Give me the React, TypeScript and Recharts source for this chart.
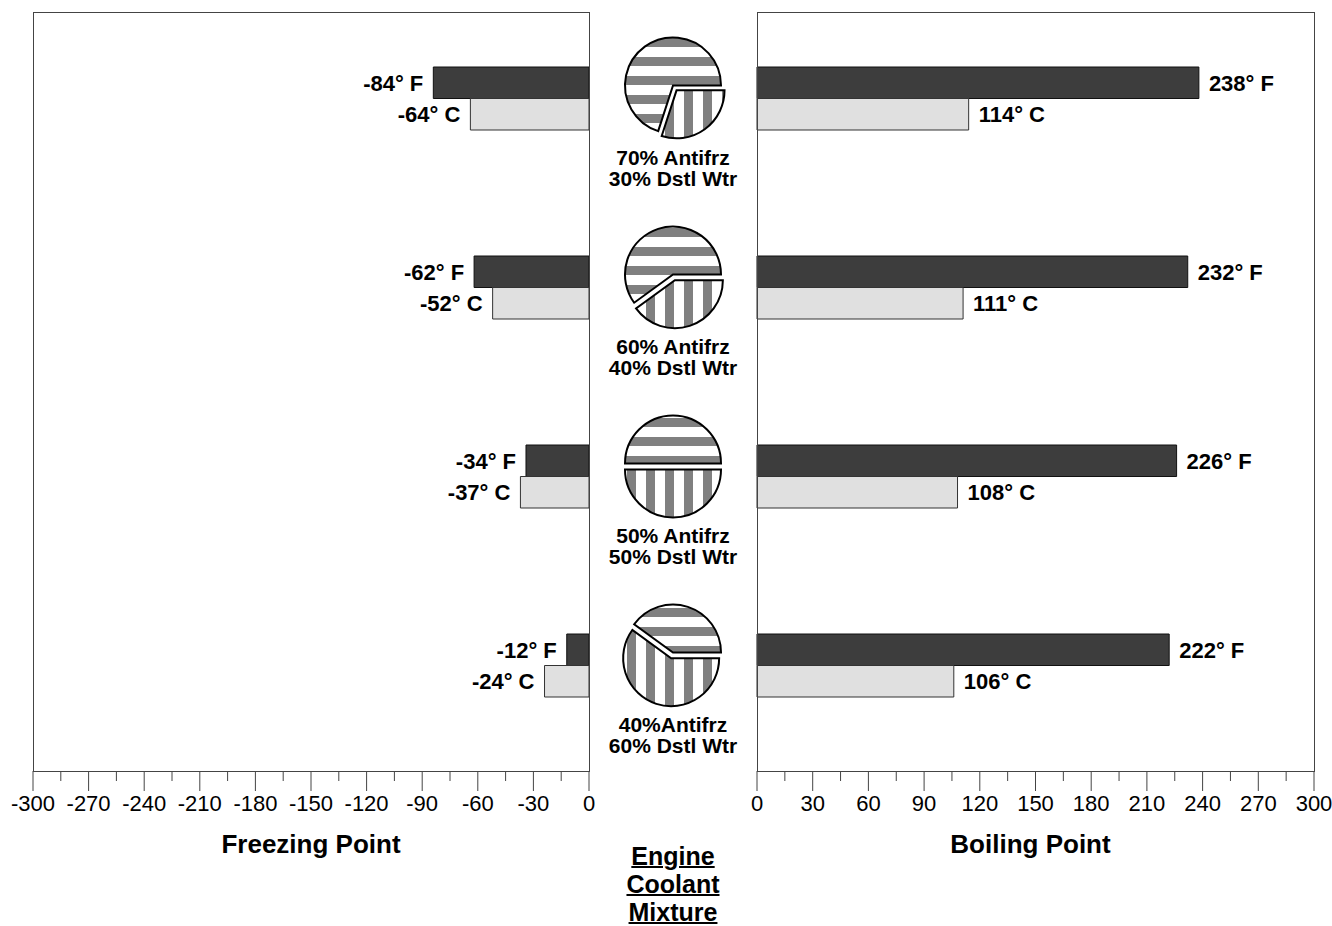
import React from 'react';
import { BarChart, Bar, XAxis, YAxis, LabelList, PieChart, Pie, Cell } from 'recharts';

// coolant mixtures, top to bottom
const MIXTURES = ['70/30', '60/40', '50/50', '40/60'];
const MIX_LINES = [
  ['70% Antifrz', '30% Dstl Wtr'],
  ['60% Antifrz', '40% Dstl Wtr'],
  ['50% Antifrz', '50% Dstl Wtr'],
  ['40%Antifrz', '60% Dstl Wtr'],
];
const ANTIFREEZE = [70, 60, 50, 40];
const WATER = [30, 40, 50, 60];

const FREEZE_F = [-84, -62, -34, -12];
const FREEZE_C = [-64, -52, -37, -24];
const BOIL_F = [238, 232, 226, 222];
const BOIL_C = [114, 111, 108, 106];

const FREEZE_TICKS = [-300, -285, -270, -255, -240, -225, -210, -195, -180, -165, -150, -135, -120, -105, -90, -75, -60, -45, -30, -15, 0];
const BOIL_TICKS = [0, 15, 30, 45, 60, 75, 90, 105, 120, 135, 150, 165, 180, 195, 210, 225, 240, 255, 270, 285, 300];

const FONT = "'Liberation Sans', Arial, Helvetica, sans-serif";
const DARK = '#3d3d3d';
const LIGHT = '#e0e0e0';
const LINE = '#444';

// layout
const PLOT_TOP = 12;
const PLOT_H = 759;
const PAD_TOP = -8;
const PAD_BOTTOM = 11;
const BAND = (PLOT_H - PAD_TOP - PAD_BOTTOM) / MIXTURES.length;
const groupCenter = (i: number) => PLOT_TOP + PAD_TOP + BAND * (i + 0.5);

const freezeRows = MIXTURES.map((m, i) => ({ mix: m, f: FREEZE_F[i], c: FREEZE_C[i] }));
const boilRows = MIXTURES.map((m, i) => ({ mix: m, f: BOIL_F[i], c: BOIL_C[i] }));

function AxisTick(props: any) {
  const { x, y, payload } = props;
  const v = payload.value;
  const major = v % 30 === 0;
  return (
    <g>
      <line x1={x} x2={x} y1={y} y2={y + (major ? 20 : 10)} stroke={LINE} />
      {major && (
        <text x={x} y={y + 40} textAnchor="middle" fontSize={22} fill="#000">
          {String(v)}
        </text>
      )}
    </g>
  );
}

function BarTag(props: any) {
  const vb = props.viewBox ?? props;
  const { x, y, width, height } = vb;
  const lo = Math.min(x, x + width);
  const hi = Math.max(x, x + width);
  const left = props.side === 'left';
  return (
    <text
      x={left ? lo - 10 : hi + 10}
      y={y + height / 2}
      dy="0.36em"
      textAnchor={left ? 'end' : 'start'}
      fontSize={22}
      fontWeight="bold"
      fill="#000"
    >
      {`${props.value}° ${props.unit}`}
    </text>
  );
}

function Panel(props: { rows: any[]; domain: [number, number]; ticks: number[]; title: string; side: 'left' | 'right'; margin: any; width: number; titleDx: number }) {
  const { rows, domain, ticks, title, side, margin, width, titleDx } = props;
  return (
    <BarChart
      width={width}
      height={880}
      data={rows}
      layout="vertical"
      margin={margin}
      barGap={0}
      barSize={31.5}
    >
      <XAxis
        type="number"
        domain={domain}
        ticks={ticks}
        interval={0}
        tickSize={0}
        tickMargin={0}
        tickLine={false}
        axisLine={false}
        tick={<AxisTick />}
        height={82}
        label={{ value: title, position: 'insideBottom', offset: 0, dx: titleDx, fontSize: 26, fontWeight: 'bold', fill: '#000' }}
      />
      <YAxis type="category" dataKey="mix" hide padding={{ top: PAD_TOP, bottom: PAD_BOTTOM }} />
      <Bar dataKey="f" fill={DARK} stroke="#111" isAnimationActive={false}>
        <LabelList dataKey="f" content={(p: any) => <BarTag {...p} unit="F" side={side} />} />
      </Bar>
      <Bar dataKey="c" fill={LIGHT} stroke="#333" isAnimationActive={false}>
        <LabelList dataKey="c" content={(p: any) => <BarTag {...p} unit="C" side={side} />} />
      </Bar>
    </BarChart>
  );
}

const PIE_R = 48;
const EXPLODE = 6;

export default function App() {
  return (
    <div style={{ position: 'absolute', left: 0, top: 0, width: 1332, height: 926, background: '#fff', fontFamily: FONT, overflow: 'hidden' }}>
      <svg width={0} height={0} style={{ position: 'absolute' }}>
        <defs>
          <pattern id="hstripe" width={10} height={19} patternUnits="userSpaceOnUse">
            <rect width={10} height={19} fill="#fff" />
            <rect width={10} height={9} fill="#808080" />
          </pattern>
          <pattern id="vstripe" width={19} height={10} patternUnits="userSpaceOnUse">
            <rect width={19} height={10} fill="#fff" />
            <rect width={9} height={10} fill="#808080" />
          </pattern>
        </defs>
      </svg>

      <div style={{ position: 'absolute', left: 0, top: 0 }}>
        <Panel
          rows={freezeRows}
          domain={[-300, 0]}
          ticks={FREEZE_TICKS}
          title="Freezing Point"
          side="left"
          width={620}
          titleDx={0}
          margin={{ top: PLOT_TOP, left: 33, right: 31, bottom: 27 }}
        />
      </div>
      <div style={{ position: 'absolute', left: 700, top: 0 }}>
        <Panel
          rows={boilRows}
          domain={[0, 300]}
          ticks={BOIL_TICKS}
          title="Boiling Point"
          side="right"
          width={632}
          titleDx={-5}
          margin={{ top: PLOT_TOP, left: 57, right: 18, bottom: 27 }}
        />
      </div>

      {/* panel frames */}
      <div style={{ position: 'absolute', left: 33, top: PLOT_TOP, width: 557, height: PLOT_H + 1, border: `1px solid ${LINE}`, boxSizing: 'border-box', pointerEvents: 'none' }} />
      <div style={{ position: 'absolute', left: 757, top: PLOT_TOP, width: 558, height: PLOT_H + 1, border: `1px solid ${LINE}`, boxSizing: 'border-box', pointerEvents: 'none' }} />

      {/* mixture pies */}
      <div style={{ position: 'absolute', left: 589, top: 0 }}>
        <PieChart width={168} height={780} margin={{ top: 0, right: 0, bottom: 0, left: 0 }}>
          {MIXTURES.map((m, i) => {
            const data = [
              { name: 'Antifreeze', value: ANTIFREEZE[i] },
              { name: 'Water', value: WATER[i] },
            ];
            const cy = groupCenter(i) - 13;
            const aEnd = (360 * ANTIFREEZE[i]) / (ANTIFREEZE[i] + WATER[i]);
            const mid = ((aEnd + 360) / 2) * (Math.PI / 180);
            const dx = EXPLODE * Math.cos(mid);
            const dy = -EXPLODE * Math.sin(mid);
            return [
              <Pie key={`a-${m}`} data={data} dataKey="value" cx={84} cy={cy} outerRadius={PIE_R} isAnimationActive={false}>
                <Cell fill="url(#hstripe)" stroke="#000" strokeWidth={2} />
                <Cell fill="none" stroke="none" />
              </Pie>,
              <Pie key={`w-${m}`} data={data} dataKey="value" cx={84 + dx} cy={cy + dy} outerRadius={PIE_R} isAnimationActive={false}>
                <Cell fill="none" stroke="none" />
                <Cell fill="url(#vstripe)" stroke="#000" strokeWidth={2} />
              </Pie>,
            ];
          })}
        </PieChart>
      </div>

      {MIX_LINES.map((lines, i) => (
        <div
          key={MIXTURES[i]}
          style={{
            position: 'absolute',
            left: 589,
            width: 168,
            top: groupCenter(i) + 48,
            textAlign: 'center',
            fontSize: 21,
            fontWeight: 'bold',
            lineHeight: '21px',
          }}
        >
          {lines.map((l) => (
            <div key={l}>{l}</div>
          ))}
        </div>
      ))}

      <div
        style={{
          position: 'absolute',
          left: 589,
          width: 168,
          top: 842,
          textAlign: 'center',
          fontSize: 25,
          fontWeight: 'bold',
          lineHeight: '28px',
          textDecoration: 'underline',
          textDecorationThickness: 2,
        }}
      >
        <div>Engine</div>
        <div>Coolant</div>
        <div>Mixture</div>
      </div>
    </div>
  );
}
